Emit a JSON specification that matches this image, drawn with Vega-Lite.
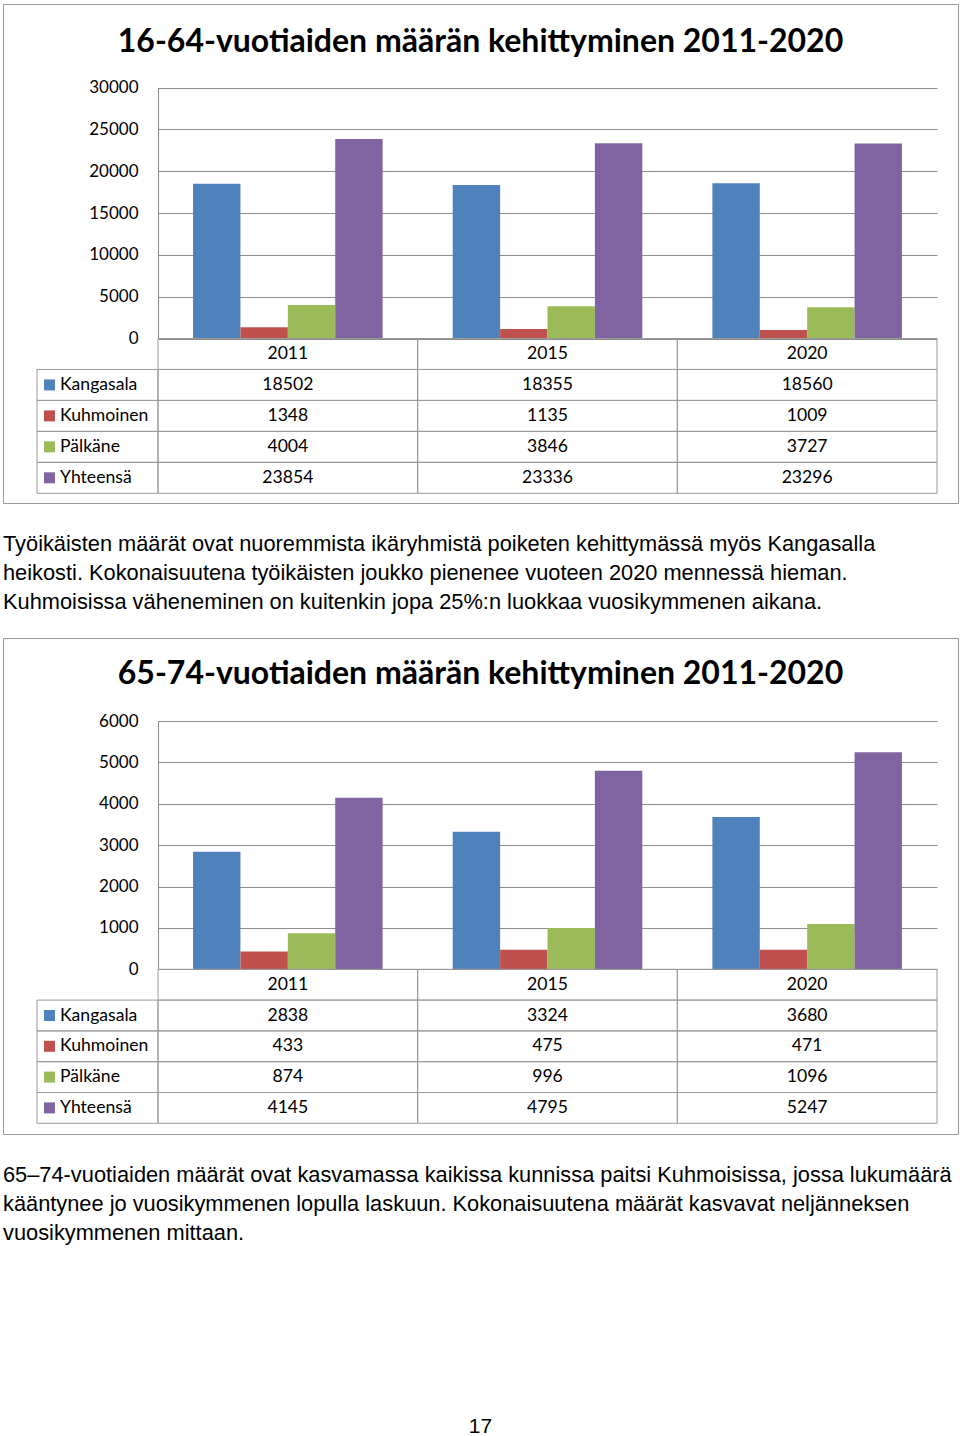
{
  "$schema": "https://vega.github.io/schema/vega-lite/v6.json",
  "padding": {"left": 2, "top": 3, "right": 0, "bottom": 0},
  "spacing": 0,
  "bounds": "flush",
  "config": {"view": {"stroke": null}, "font": "Lato"},
  "datasets": {
    "d1": [
      {"year": "2011", "series": "Kangasala", "value": 18502},
      {"year": "2011", "series": "Kuhmoinen", "value": 1348},
      {"year": "2011", "series": "Pälkäne", "value": 4004},
      {"year": "2011", "series": "Yhteensä", "value": 23854},
      {"year": "2015", "series": "Kangasala", "value": 18355},
      {"year": "2015", "series": "Kuhmoinen", "value": 1135},
      {"year": "2015", "series": "Pälkäne", "value": 3846},
      {"year": "2015", "series": "Yhteensä", "value": 23336},
      {"year": "2020", "series": "Kangasala", "value": 18560},
      {"year": "2020", "series": "Kuhmoinen", "value": 1009},
      {"year": "2020", "series": "Pälkäne", "value": 3727},
      {"year": "2020", "series": "Yhteensä", "value": 23296}
    ],
    "d2": [
      {"year": "2011", "series": "Kangasala", "value": 2838},
      {"year": "2011", "series": "Kuhmoinen", "value": 433},
      {"year": "2011", "series": "Pälkäne", "value": 874},
      {"year": "2011", "series": "Yhteensä", "value": 4145},
      {"year": "2015", "series": "Kangasala", "value": 3324},
      {"year": "2015", "series": "Kuhmoinen", "value": 475},
      {"year": "2015", "series": "Pälkäne", "value": 996},
      {"year": "2015", "series": "Yhteensä", "value": 4795},
      {"year": "2020", "series": "Kangasala", "value": 3680},
      {"year": "2020", "series": "Kuhmoinen", "value": 471},
      {"year": "2020", "series": "Pälkäne", "value": 1096},
      {"year": "2020", "series": "Yhteensä", "value": 5247}
    ],
    "p1": [
      {"line": 1, "text": "Työikäisten määrät ovat nuoremmista ikäryhmistä poiketen kehittymässä myös Kangasalla"},
      {"line": 2, "text": "heikosti. Kokonaisuutena työikäisten joukko pienenee vuoteen 2020 mennessä hieman."},
      {"line": 3, "text": "Kuhmoisissa väheneminen on kuitenkin jopa 25%:n luokkaa vuosikymmenen aikana."}
    ],
    "p2": [
      {"line": 1, "text": "65–74-vuotiaiden määrät ovat kasvamassa kaikissa kunnissa paitsi Kuhmoisissa, jossa lukumäärä"},
      {"line": 2, "text": "kääntynee jo vuosikymmenen lopulla laskuun. Kokonaisuutena määrät kasvavat neljänneksen"},
      {"line": 3, "text": "vuosikymmenen mittaan."}
    ]
  },
  "vconcat": [
    {
      "width": 955,
      "height": 499,
      "view": {"stroke": "#9a9a9a", "strokeWidth": 1},
      "title": {"text": "16-64-vuotiaiden määrän kehittyminen 2011-2020", "font": "Lato", "fontWeight": "bold", "fontSize": 32, "color": "black", "anchor": "middle", "frame": "group", "baseline": "alphabetic", "offset": -80},
      "data": {"name": "d1"},
      "resolve": {"scale": {"x": "independent", "y": "independent"}},
      "layer": [
        {
          "mark": {"type": "bar"},
          "encoding": {
            "x": {"field": "year", "type": "nominal", "axis": null, "scale": {"range": [155, 934], "paddingInner": 0.27, "paddingOuter": 0.135}},
            "xOffset": {"field": "series", "type": "nominal", "scale": {"domain": ["Kangasala", "Kuhmoinen", "Pälkäne", "Yhteensä"], "paddingInner": 0, "paddingOuter": 0}},
            "y": {"field": "value", "type": "quantitative", "scale": {"domain": [0, 30000], "nice": false, "range": [334.5, 83.5]},
              "axis": {"values": [0, 5000, 10000, 15000, 20000, 25000, 30000], "format": "d", "offset": -155, "labelPadding": 20, "ticks": false, "domain": true, "domainColor": "#8c8c8c", "grid": true, "gridColor": "#8c8c8c", "labelFont": "Lato", "labelFontSize": 17, "labelColor": "black", "title": null}},
            "color": {"field": "series", "type": "nominal", "scale": {"domain": ["Kangasala", "Kuhmoinen", "Pälkäne", "Yhteensä"], "range": ["#4f81bd", "#c0504d", "#9bbb59", "#8064a2"]}, "legend": null}
          }
        },
        {
          "layer": [
            {
              "mark": {"type": "rect", "filled": false, "stroke": "#9a9a9a", "strokeWidth": 1},
              "encoding": {
                "x": {"field": "year", "type": "nominal", "axis": null, "scale": {"range": [155, 934], "paddingInner": 0, "paddingOuter": 0}},
                "y": {"field": "series", "type": "nominal", "axis": null, "scale": {"domain": ["h", "Kangasala", "Kuhmoinen", "Pälkäne", "Yhteensä"], "range": [334.5, 489.3], "paddingInner": 0, "paddingOuter": 0}}
              }
            },
            {
              "transform": [{"filter": "datum.series == 'Kangasala'"}],
              "mark": {"type": "rect", "filled": false, "stroke": "#9a9a9a", "strokeWidth": 1},
              "encoding": {
                "x": {"field": "year", "type": "nominal", "axis": null, "scale": {"range": [155, 934], "paddingInner": 0, "paddingOuter": 0}},
                "y": {"datum": "h", "type": "nominal", "axis": null, "scale": {"domain": ["h", "Kangasala", "Kuhmoinen", "Pälkäne", "Yhteensä"], "range": [334.5, 489.3], "paddingInner": 0, "paddingOuter": 0}}
              }
            },
            {
              "mark": {"type": "text", "font": "Lato", "fontSize": 17.6, "color": "black", "baseline": "middle", "align": "center"},
              "encoding": {
                "x": {"field": "year", "type": "nominal", "axis": null, "scale": {"range": [155, 934], "paddingInner": 0, "paddingOuter": 0}},
                "y": {"field": "series", "type": "nominal", "axis": null, "scale": {"domain": ["h", "Kangasala", "Kuhmoinen", "Pälkäne", "Yhteensä"], "range": [334.5, 489.3], "paddingInner": 0, "paddingOuter": 0}},
                "text": {"field": "value", "type": "quantitative", "format": "d"}
              }
            },
            {
              "transform": [{"filter": "datum.series == 'Kangasala'"}],
              "mark": {"type": "text", "font": "Lato", "fontSize": 17.6, "color": "black", "baseline": "middle", "align": "center"},
              "encoding": {
                "x": {"field": "year", "type": "nominal", "axis": null, "scale": {"range": [155, 934], "paddingInner": 0, "paddingOuter": 0}},
                "y": {"datum": "h", "type": "nominal", "axis": null, "scale": {"domain": ["h", "Kangasala", "Kuhmoinen", "Pälkäne", "Yhteensä"], "range": [334.5, 489.3], "paddingInner": 0, "paddingOuter": 0}},
                "text": {"field": "year", "type": "nominal"}
              }
            }
          ]
        },
        {
          "transform": [{"filter": "datum.year == '2011'"}],
          "layer": [
            {
              "mark": {"type": "rect", "filled": false, "stroke": "#9a9a9a", "strokeWidth": 1},
              "encoding": {
                "x": {"datum": "lab", "type": "nominal", "axis": null, "scale": {"domain": ["lab"], "range": [34, 155], "paddingInner": 0, "paddingOuter": 0}},
                "y": {"field": "series", "type": "nominal", "axis": null, "scale": {"domain": ["h", "Kangasala", "Kuhmoinen", "Pälkäne", "Yhteensä"], "range": [334.5, 489.3], "paddingInner": 0, "paddingOuter": 0}}
              }
            },
            {
              "mark": {"type": "text", "font": "Lato", "fontSize": 17.6, "color": "black", "baseline": "middle", "align": "left"},
              "encoding": {
                "x": {"datum": "lab", "type": "nominal", "bandPosition": 0.19, "axis": null, "scale": {"domain": ["lab"], "range": [34, 155], "paddingInner": 0, "paddingOuter": 0}},
                "y": {"field": "series", "type": "nominal", "axis": null, "scale": {"domain": ["h", "Kangasala", "Kuhmoinen", "Pälkäne", "Yhteensä"], "range": [334.5, 489.3], "paddingInner": 0, "paddingOuter": 0}},
                "text": {"field": "series", "type": "nominal"}
              }
            },
            {
              "mark": {"type": "square", "size": 121, "opacity": 1, "filled": true},
              "encoding": {
                "x": {"datum": "lab", "type": "nominal", "bandPosition": 0.103, "axis": null, "scale": {"domain": ["lab"], "range": [34, 155], "paddingInner": 0, "paddingOuter": 0}},
                "y": {"field": "series", "type": "nominal", "axis": null, "scale": {"domain": ["h", "Kangasala", "Kuhmoinen", "Pälkäne", "Yhteensä"], "range": [334.5, 489.3], "paddingInner": 0, "paddingOuter": 0}},
                "color": {"field": "series", "type": "nominal", "scale": {"domain": ["Kangasala", "Kuhmoinen", "Pälkäne", "Yhteensä"], "range": ["#4f81bd", "#c0504d", "#9bbb59", "#8064a2"]}, "legend": null}
              }
            }
          ]
        }
      ]
    },
    {
      "width": 955,
      "height": 135,
      "data": {"name": "p1"},
      "mark": {"type": "text", "align": "left", "baseline": "alphabetic", "font": "Liberation Sans", "fontSize": 21.8, "color": "black"},
      "encoding": {
        "x": {"datum": 0, "type": "quantitative", "scale": {"domain": [0, 1]}, "axis": null},
        "y": {"field": "line", "type": "ordinal", "scale": {"type": "point", "range": [48, 106], "padding": 0}, "axis": null},
        "text": {"field": "text", "type": "nominal"}
      }
    },
    {
      "width": 955,
      "height": 496,
      "view": {"stroke": "#9a9a9a", "strokeWidth": 1},
      "title": {"text": "65-74-vuotiaiden määrän kehittyminen 2011-2020", "font": "Lato", "fontWeight": "bold", "fontSize": 32, "color": "black", "anchor": "middle", "frame": "group", "baseline": "alphabetic", "offset": -78},
      "data": {"name": "d2"},
      "resolve": {"scale": {"x": "independent", "y": "independent"}},
      "layer": [
        {
          "mark": {"type": "bar"},
          "encoding": {
            "x": {"field": "year", "type": "nominal", "axis": null, "scale": {"range": [155, 934], "paddingInner": 0.27, "paddingOuter": 0.135}},
            "xOffset": {"field": "series", "type": "nominal", "scale": {"domain": ["Kangasala", "Kuhmoinen", "Pälkäne", "Yhteensä"], "paddingInner": 0, "paddingOuter": 0}},
            "y": {"field": "value", "type": "quantitative", "scale": {"domain": [0, 6000], "nice": false, "range": [331.3, 83]},
              "axis": {"values": [0, 1000, 2000, 3000, 4000, 5000, 6000], "format": "d", "offset": -155, "labelPadding": 20, "ticks": false, "domain": true, "domainColor": "#8c8c8c", "grid": true, "gridColor": "#8c8c8c", "labelFont": "Lato", "labelFontSize": 17, "labelColor": "black", "title": null}},
            "color": {"field": "series", "type": "nominal", "scale": {"domain": ["Kangasala", "Kuhmoinen", "Pälkäne", "Yhteensä"], "range": ["#4f81bd", "#c0504d", "#9bbb59", "#8064a2"]}, "legend": null}
          }
        },
        {
          "layer": [
            {
              "mark": {"type": "rect", "filled": false, "stroke": "#9a9a9a", "strokeWidth": 1},
              "encoding": {
                "x": {"field": "year", "type": "nominal", "axis": null, "scale": {"range": [155, 934], "paddingInner": 0, "paddingOuter": 0}},
                "y": {"field": "series", "type": "nominal", "axis": null, "scale": {"domain": ["h", "Kangasala", "Kuhmoinen", "Pälkäne", "Yhteensä"], "range": [331.3, 485.3], "paddingInner": 0, "paddingOuter": 0}}
              }
            },
            {
              "transform": [{"filter": "datum.series == 'Kangasala'"}],
              "mark": {"type": "rect", "filled": false, "stroke": "#9a9a9a", "strokeWidth": 1},
              "encoding": {
                "x": {"field": "year", "type": "nominal", "axis": null, "scale": {"range": [155, 934], "paddingInner": 0, "paddingOuter": 0}},
                "y": {"datum": "h", "type": "nominal", "axis": null, "scale": {"domain": ["h", "Kangasala", "Kuhmoinen", "Pälkäne", "Yhteensä"], "range": [331.3, 485.3], "paddingInner": 0, "paddingOuter": 0}}
              }
            },
            {
              "mark": {"type": "text", "font": "Lato", "fontSize": 17.6, "color": "black", "baseline": "middle", "align": "center"},
              "encoding": {
                "x": {"field": "year", "type": "nominal", "axis": null, "scale": {"range": [155, 934], "paddingInner": 0, "paddingOuter": 0}},
                "y": {"field": "series", "type": "nominal", "axis": null, "scale": {"domain": ["h", "Kangasala", "Kuhmoinen", "Pälkäne", "Yhteensä"], "range": [331.3, 485.3], "paddingInner": 0, "paddingOuter": 0}},
                "text": {"field": "value", "type": "quantitative", "format": "d"}
              }
            },
            {
              "transform": [{"filter": "datum.series == 'Kangasala'"}],
              "mark": {"type": "text", "font": "Lato", "fontSize": 17.6, "color": "black", "baseline": "middle", "align": "center"},
              "encoding": {
                "x": {"field": "year", "type": "nominal", "axis": null, "scale": {"range": [155, 934], "paddingInner": 0, "paddingOuter": 0}},
                "y": {"datum": "h", "type": "nominal", "axis": null, "scale": {"domain": ["h", "Kangasala", "Kuhmoinen", "Pälkäne", "Yhteensä"], "range": [331.3, 485.3], "paddingInner": 0, "paddingOuter": 0}},
                "text": {"field": "year", "type": "nominal"}
              }
            }
          ]
        },
        {
          "transform": [{"filter": "datum.year == '2011'"}],
          "layer": [
            {
              "mark": {"type": "rect", "filled": false, "stroke": "#9a9a9a", "strokeWidth": 1},
              "encoding": {
                "x": {"datum": "lab", "type": "nominal", "axis": null, "scale": {"domain": ["lab"], "range": [34, 155], "paddingInner": 0, "paddingOuter": 0}},
                "y": {"field": "series", "type": "nominal", "axis": null, "scale": {"domain": ["h", "Kangasala", "Kuhmoinen", "Pälkäne", "Yhteensä"], "range": [331.3, 485.3], "paddingInner": 0, "paddingOuter": 0}}
              }
            },
            {
              "mark": {"type": "text", "font": "Lato", "fontSize": 17.6, "color": "black", "baseline": "middle", "align": "left"},
              "encoding": {
                "x": {"datum": "lab", "type": "nominal", "bandPosition": 0.19, "axis": null, "scale": {"domain": ["lab"], "range": [34, 155], "paddingInner": 0, "paddingOuter": 0}},
                "y": {"field": "series", "type": "nominal", "axis": null, "scale": {"domain": ["h", "Kangasala", "Kuhmoinen", "Pälkäne", "Yhteensä"], "range": [331.3, 485.3], "paddingInner": 0, "paddingOuter": 0}},
                "text": {"field": "series", "type": "nominal"}
              }
            },
            {
              "mark": {"type": "square", "size": 121, "opacity": 1, "filled": true},
              "encoding": {
                "x": {"datum": "lab", "type": "nominal", "bandPosition": 0.103, "axis": null, "scale": {"domain": ["lab"], "range": [34, 155], "paddingInner": 0, "paddingOuter": 0}},
                "y": {"field": "series", "type": "nominal", "axis": null, "scale": {"domain": ["h", "Kangasala", "Kuhmoinen", "Pälkäne", "Yhteensä"], "range": [331.3, 485.3], "paddingInner": 0, "paddingOuter": 0}},
                "color": {"field": "series", "type": "nominal", "scale": {"domain": ["Kangasala", "Kuhmoinen", "Pälkäne", "Yhteensä"], "range": ["#4f81bd", "#c0504d", "#9bbb59", "#8064a2"]}, "legend": null}
              }
            }
          ]
        }
      ]
    },
    {
      "width": 955,
      "height": 127,
      "data": {"name": "p2"},
      "title": {"text": "17", "orient": "bottom", "anchor": "middle", "frame": "group", "font": "Liberation Sans", "fontSize": 21, "fontWeight": "normal", "color": "black", "baseline": "alphabetic", "offset": 172},
      "mark": {"type": "text", "align": "left", "baseline": "alphabetic", "font": "Liberation Sans", "fontSize": 21.8, "color": "black"},
      "encoding": {
        "x": {"datum": 0, "type": "quantitative", "scale": {"domain": [0, 1]}, "axis": null},
        "y": {"field": "line", "type": "ordinal", "scale": {"type": "point", "range": [48, 106], "padding": 0}, "axis": null},
        "text": {"field": "text", "type": "nominal"}
      }
    }
  ]
}
